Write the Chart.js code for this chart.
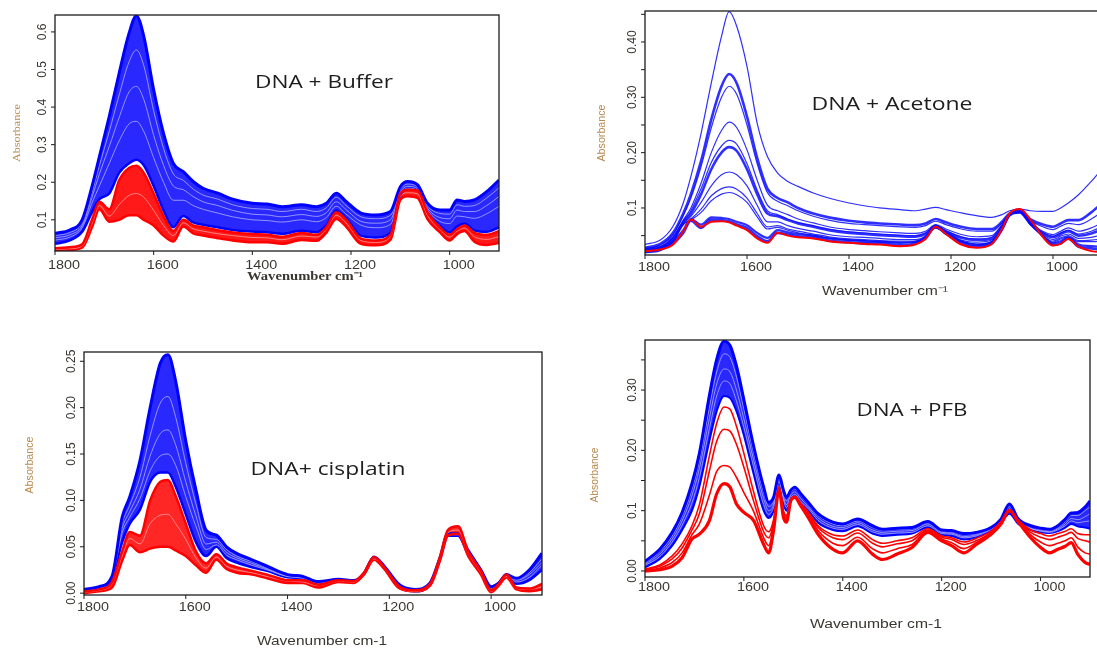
<!DOCTYPE html>
<html>
<head>
<meta charset="utf-8">
<script src="https://cdn.jsdelivr.net/npm/chart.js@4.4.0/dist/chart.umd.min.js"></script>
<style>
  html, body { margin: 0; padding: 0; background: #fff; width: 1097px; height: 649px; overflow: hidden; }
  .panel { position: absolute; }
</style>
</head>
<body>
<div class="panel" style="left:0px;top:0px;width:540px;height:300px"><canvas id="c1"></canvas></div>
<div class="panel" style="left:560px;top:0px;width:560px;height:300px"><canvas id="c2"></canvas></div>
<div class="panel" style="left:0px;top:320px;width:560px;height:329px"><canvas id="c3"></canvas></div>
<div class="panel" style="left:560px;top:320px;width:537px;height:329px"><canvas id="c4"></canvas></div>
<script>
// wavenumber grid (cm-1) used by the buffer, acetone and cisplatin panels
var WAVENUMBERS = [1800,1770,1745,1725,1710,1690,1670,1650,1635,1620,1600,1580,1560,1540,1520,1500,1470,1440,1400,1370,1340,1300,1270,1250,1230,1210,1180,1150,1120,1100,1085,1065,1045,1020,1000,985,970,950,925,900];
// finer grid for the PFB panel (sharp bands near 1530/1500)
var WAVENUMBERS_PFB = [1800,1770,1745,1725,1705,1690,1670,1655,1640,1628,1615,1600,1580,1560,1550,1540,1529,1520,1514,1505,1497,1485,1470,1450,1420,1400,1370,1340,1320,1290,1260,1228,1200,1180,1155,1130,1100,1080,1063,1045,1020,1000,982,965,950,938,925,910,900];

var X_TICKS = [1800, 1600, 1400, 1200, 1000];

// DNA + Buffer
var bufferBlue1 = [.064,.073,.100,.189,.268,.375,.490,.596,.643,.588,.446,.330,.250,.228,.202,.184,.171,.155,.144,.142,.135,.140,.135,.144,.171,.149,.118,.113,.122,.188,.202,.193,.144,.126,.126,.153,.149,.153,.175,.206];
var bufferBlue2 = [.058,.066,.092,.172,.245,.335,.432,.52,.552,.51,.39,.29,.222,.205,.182,.166,.155,.14,.13,.128,.122,.128,.122,.132,.16,.138,.108,.103,.112,.18,.195,.187,.137,.117,.115,.14,.136,.138,.158,.185];
var bufferBlue3 = [.052,.06,.085,.16,.222,.295,.372,.44,.455,.42,.325,.245,.19,.18,.162,.148,.138,.125,.115,.113,.108,.114,.109,.119,.148,.127,.096,.091,.1,.173,.189,.182,.131,.106,.103,.126,.122,.122,.138,.162];
var bufferBlue4 = [.046,.054,.079,.145,.19,.25,.31,.355,.362,.335,.265,.2,.152,.152,.138,.128,.118,.108,.1,.098,.094,.1,.095,.106,.136,.115,.086,.079,.088,.167,.184,.178,.126,.096,.09,.11,.108,.104,.116,.136];
var bufferBlue5 = [.036,.045,.068,.12,.155,.17,.225,.25,.26,.245,.19,.125,.08,.11,.093,.087,.08,.073,.069,.067,.063,.071,.067,.085,.125,.105,.058,.053,.066,.165,.183,.18,.122,.085,.066,.082,.09,.072,.068,.08];
var bufferRed1 = [.024,.027,.035,.1,.148,.128,.205,.238,.244,.225,.17,.11,.07,.1,.085,.08,.072,.066,.062,.06,.055,.065,.06,.08,.12,.1,.05,.045,.06,.17,.18,.178,.12,.08,.06,.075,.085,.065,.06,.07];
var bufferRed2 = [.021,.023,.03,.09,.138,.11,.14,.165,.17,.16,.125,.085,.058,.092,.076,.07,.063,.058,.053,.052,.047,.057,.054,.075,.112,.092,.045,.04,.055,.162,.172,.169,.112,.075,.054,.07,.078,.055,.048,.055];
var bufferRed3 = [.018,.02,.026,.08,.128,.095,.1,.112,.112,.1,.085,.058,.042,.082,.064,.058,.051,.045,.04,.04,.036,.046,.044,.066,.102,.082,.036,.032,.047,.153,.163,.158,.102,.067,.045,.062,.07,.042,.033,.038];

// DNA + Acetone
var acetoneBlue1 = [.034,.042,.067,.109,.157,.235,.326,.41,.455,.428,.356,.253,.193,.163,.148,.139,.127,.118,.109,.104,.1,.097,.095,.098,.101,.097,.091,.086,.083,.088,.095,.098,.095,.094,.094,.1,.109,.124,.148,.175];
var acetoneBlue2 = [.028,.035,.055,.09,.125,.185,.26,.32,.342,.325,.265,.19,.135,.118,.11,.1,.09,.083,.077,.074,.072,.07,.069,.072,.08,.074,.066,.062,.062,.075,.09,.093,.08,.07,.066,.072,.078,.078,.092,.112];
var acetoneBlue3 = [.026,.033,.052,.086,.118,.175,.245,.3,.32,.305,.25,.18,.128,.112,.104,.095,.085,.078,.072,.07,.068,.066,.065,.068,.076,.07,.062,.058,.058,.073,.089,.092,.078,.066,.061,.067,.072,.07,.08,.095];
var acetoneBlue4 = [.024,.03,.048,.078,.1,.145,.2,.24,.255,.245,.205,.15,.105,.095,.088,.08,.073,.066,.061,.059,.057,.055,.054,.058,.07,.062,.052,.048,.05,.07,.088,.092,.074,.058,.052,.058,.064,.058,.064,.075];
var acetoneBlue5 = [.023,.028,.046,.076,.095,.135,.182,.212,.222,.215,.18,.132,.095,.088,.08,.074,.068,.062,.057,.055,.053,.051,.05,.055,.068,.059,.048,.044,.047,.068,.088,.092,.073,.056,.049,.055,.06,.053,.058,.068];
var acetoneBlue6 = [.022,.027,.045,.074,.09,.125,.17,.2,.21,.203,.17,.125,.09,.085,.078,.072,.066,.06,.055,.053,.051,.049,.048,.053,.066,.057,.046,.042,.045,.067,.087,.092,.072,.054,.047,.053,.058,.05,.054,.062];
var acetoneBlue7 = [.02,.025,.042,.072,.085,.11,.14,.16,.165,.16,.14,.105,.075,.075,.068,.063,.058,.052,.048,.047,.045,.043,.043,.049,.064,.054,.042,.038,.042,.065,.088,.093,.072,.052,.043,.049,.053,.045,.047,.052];
var acetoneBlue8 = [.02,.024,.04,.07,.08,.098,.122,.135,.138,.134,.118,.09,.066,.068,.062,.058,.053,.048,.044,.043,.041,.04,.04,.047,.064,.053,.04,.035,.04,.063,.087,.093,.071,.05,.04,.046,.05,.041,.042,.045];
var acetoneBlue9 = [.019,.023,.038,.07,.078,.092,.113,.125,.128,.124,.11,.084,.062,.065,.06,.055,.051,.046,.042,.041,.039,.038,.038,.046,.064,.052,.039,.034,.039,.062,.087,.093,.07,.049,.038,.044,.048,.039,.039,.041];
var acetoneBlue10 = [.026,.03,.04,.06,.08,.07,.083,.082,.08,.075,.069,.055,.046,.06,.056,.053,.05,.045,.042,.04,.039,.037,.039,.048,.068,.057,.04,.033,.038,.062,.088,.094,.078,.05,.036,.04,.047,.034,.031,.029];
var acetoneBlue11 = [.024,.027,.036,.055,.077,.064,.079,.078,.076,.07,.064,.049,.04,.055,.052,.049,.047,.041,.038,.036,.036,.033,.036,.045,.067,.055,.036,.03,.036,.061,.088,.095,.079,.049,.033,.036,.045,.03,.027,.024];
var acetoneRed = [.022,.025,.034,.058,.079,.066,.075,.076,.074,.068,.06,.045,.037,.055,.05,.047,.045,.04,.037,.035,.034,.031,.034,.044,.066,.053,.034,.028,.035,.062,.09,.098,.08,.048,.032,.035,.044,.03,.022,.02];

// DNA + cisplatin
var cisBlue1 = [.004,.007,.018,.082,.104,.143,.2,.248,.257,.229,.164,.111,.068,.0625,.05,.043,.036,.029,.02,.018,.0125,.015,.0135,.021,.039,.029,.009,.004,.011,.039,.064,.064,.046,.025,.007,.011,.02,.016,.025,.043];
var cisBlue2 = [.003,.006,.017,.075,.095,.125,.17,.205,.212,.19,.14,.096,.06,.058,.047,.04,.034,.027,.019,.017,.012,.0145,.013,.021,.039,.029,.008,.004,.01,.038,.064,.064,.045,.024,.007,.011,.02,.015,.022,.037];
var cisBlue3 = [.003,.006,.017,.07,.088,.112,.148,.172,.176,.16,.12,.083,.053,.055,.044,.038,.032,.026,.018,.017,.011,.014,.013,.021,.038,.028,.008,.003,.01,.038,.063,.063,.044,.023,.006,.011,.02,.014,.02,.033];
var cisBlue4 = [.003,.006,.016,.065,.082,.102,.132,.148,.15,.138,.104,.072,.047,.052,.041,.036,.03,.025,.018,.016,.011,.014,.012,.021,.038,.028,.007,.003,.01,.037,.063,.063,.043,.023,.005,.01,.02,.012,.017,.03];
var cisBlue5 = [.003,.006,.016,.055,.075,.09,.12,.13,.13,.115,.085,.055,.04,.05,.038,.033,.028,.024,.017,.016,.01,.014,.012,.021,.038,.027,.006,.002,.009,.037,.062,.062,.042,.022,.004,.01,.019,.01,.014,.025];
var cisRed1 = [.002,.004,.012,.045,.066,.062,.1,.12,.122,.105,.075,.045,.032,.042,.032,.028,.024,.02,.014,.014,.009,.014,.013,.022,.039,.028,.007,.003,.01,.04,.068,.072,.045,.024,.003,.01,.02,.006,.005,.01];
var cisRed2 = [.001,.003,.01,.04,.059,.053,.075,.084,.085,.075,.058,.038,.027,.039,.029,.025,.022,.018,.013,.012,.008,.013,.012,.021,.037,.027,.006,.002,.009,.038,.065,.068,.043,.022,.002,.009,.018,.005,.004,.007];
var cisRed3 = [0,.002,.006,.035,.052,.044,.048,.05,.05,.046,.04,.03,.022,.036,.026,.022,.02,.016,.011,.011,.006,.012,.011,.02,.036,.026,.005,.002,.008,.036,.062,.064,.04,.02,.001,.008,.017,.004,.002,.004];

// DNA + PFB
var pfbBlue1 = [.016,.036,.064,.097,.145,.195,.29,.351,.381,.374,.34,.284,.206,.139,.114,.122,.159,.134,.122,.134,.139,.128,.114,.095,.081,.078,.086,.075,.069,.071,.072,.082,.068,.067,.062,.064,.072,.086,.111,.086,.075,.071,.069,.075,.086,.096,.097,.106,.116];
var pfbBlue2 = [.013,.032,.058,.09,.135,.182,.27,.33,.36,.354,.322,.268,.195,.13,.107,.115,.155,.128,.116,.13,.136,.125,.111,.092,.078,.075,.083,.072,.067,.069,.07,.08,.066,.065,.06,.062,.071,.084,.107,.084,.073,.069,.067,.072,.082,.092,.092,.1,.106];
var pfbBlue3 = [.011,.028,.053,.083,.125,.17,.252,.31,.335,.33,.3,.252,.183,.12,.1,.11,.152,.122,.11,.126,.131,.12,.107,.088,.074,.072,.08,.068,.064,.066,.067,.078,.064,.063,.057,.06,.07,.083,.103,.082,.071,.067,.065,.07,.078,.087,.085,.09,.095];
var pfbBlue4 = [.009,.024,.048,.076,.113,.155,.235,.29,.315,.31,.282,.238,.172,.11,.094,.105,.148,.118,.105,.122,.127,.115,.104,.084,.071,.069,.077,.065,.061,.063,.064,.075,.062,.061,.055,.058,.069,.082,.1,.08,.07,.066,.064,.068,.075,.083,.08,.082,.083];
var pfbBlue5 = [.006,.02,.042,.068,.1,.14,.215,.265,.29,.287,.265,.225,.16,.1,.088,.1,.145,.112,.1,.118,.122,.11,.1,.08,.068,.066,.074,.062,.058,.06,.062,.072,.06,.058,.052,.056,.068,.08,.095,.078,.068,.064,.063,.066,.072,.078,.074,.072,.07];
var pfbRed1 = [.003,.01,.025,.045,.075,.11,.19,.245,.272,.268,.24,.195,.13,.075,.065,.085,.14,.1,.092,.12,.124,.112,.098,.075,.06,.058,.068,.052,.046,.05,.055,.07,.058,.055,.048,.054,.066,.082,.102,.084,.068,.062,.058,.062,.066,.07,.062,.06,.06];
var pfbRed2 = [.002,.008,.02,.038,.068,.095,.165,.215,.235,.232,.21,.172,.115,.065,.055,.08,.138,.097,.088,.12,.123,.111,.096,.072,.055,.052,.063,.046,.04,.045,.05,.068,.056,.052,.044,.05,.064,.081,.101,.083,.064,.056,.052,.056,.06,.064,.054,.05,.048];
var pfbRed3 = [.001,.005,.014,.03,.06,.078,.125,.165,.175,.172,.155,.13,.098,.055,.042,.074,.136,.093,.085,.118,.122,.11,.093,.067,.046,.042,.056,.037,.03,.037,.044,.066,.053,.047,.037,.047,.063,.08,.1,.082,.06,.048,.042,.046,.05,.055,.04,.03,.028];
var pfbRed4 = [0,.002,.008,.022,.053,.061,.083,.128,.145,.139,.111,.097,.083,.044,.03,.067,.134,.089,.081,.117,.122,.108,.089,.061,.036,.03,.05,.028,.019,.028,.039,.064,.05,.042,.03,.044,.061,.078,.1,.081,.055,.039,.03,.036,.041,.047,.028,.014,.011];

var panels = [
  {
    canvas: 'c1', left: 0, top: 0, pad: { top: 15, right: 41 }, yAxisWidth: 55, xAxisHeight: 49,
    yMin: 0.017, yMax: 0.645, wn: WAVENUMBERS,
    red: [bufferRed1, bufferRed2, bufferRed3], redWidths: [2.5, 0.8, 2.5], redFill: 'rgba(255,0,0,0.9)',
    blue: [bufferBlue1, bufferBlue2, bufferBlue3, bufferBlue4, bufferBlue5], blueWidths: [3, 0.8, 0.8, 0.8, 2.5],
    blueFill: 'rgba(0,0,255,0.84)', blueColor: '#0000ff',
    yMarks: [0.1, 0.2, 0.3, 0.4, 0.5, 0.6],
    yLabels: [[0.1, '0.1'], [0.2, '0.2'], [0.3, '0.3'], [0.4, '0.4'], [0.5, '0.5'], [0.6, '0.6']],
    tickDy: 15, xTitle: 'Wavenumber cm\u207B\u00B9', xTitleFont: 'bold 12px "Liberation Serif"', xTitleAt: [305, 277, 116],
    yTitleFont: '11px "Liberation Serif"', yTitleAt: [17, 133, 58],
    note: 'DNA + Buffer', noteAt: [324, 83, 138]
  },
  {
    canvas: 'c2', left: 560, top: 0, pad: { top: 11, right: 16 }, yAxisWidth: 85, xAxisHeight: 45,
    yMin: 0.015, yMax: 0.456, wn: WAVENUMBERS,
    red: [acetoneRed], redWidths: [2],
    blue: [acetoneBlue1, acetoneBlue2, acetoneBlue3, acetoneBlue4, acetoneBlue5, acetoneBlue6, acetoneBlue7, acetoneBlue8, acetoneBlue9, acetoneBlue10, acetoneBlue11],
    blueWidths: [1.2, 2.6, 1.2, 1.2, 1.2, 2.6, 1.2, 1.2, 1.2, 2.2, 2.6], blueColor: 'rgba(10,10,255,0.85)',
    yMarks: [0.05, 0.1, 0.15, 0.2, 0.25, 0.3, 0.35, 0.4, 0.45],
    yLabels: [[0.1, '0.1'], [0.2, '0.20'], [0.3, '0.30'], [0.4, '0.40']],
    tickDy: 13, xTitle: 'Wavenumber cm\u207B\u00B9', xTitleFont: '12px "Liberation Sans"', xTitleAt: [885, 292, 126],
    yTitleFont: '11px "Liberation Sans"', yTitleAt: [602, 133, 57],
    note: 'DNA + Acetone', noteAt: [892, 105, 161]
  },
  {
    canvas: 'c3', left: 0, top: 320, pad: { top: 32, right: 18 }, yAxisWidth: 84, xAxisHeight: 54,
    yMin: -0.002, yMax: 0.26, wn: WAVENUMBERS,
    red: [cisRed1, cisRed2, cisRed3], redWidths: [2.5, 0.8, 2.5], redFill: 'rgba(255,0,0,0.85)',
    blue: [cisBlue1, cisBlue2, cisBlue3, cisBlue4, cisBlue5], blueWidths: [3, 0.8, 0.8, 0.8, 2.5],
    blueFill: 'rgba(0,0,255,0.84)', blueColor: '#0000ff',
    yMarks: [0, 0.05, 0.1, 0.15, 0.2, 0.25],
    yLabels: [[0, '0.00'], [0.05, '0.05'], [0.1, '0.10'], [0.15, '0.15'], [0.2, '0.20'], [0.25, '0.25']],
    tickDy: 13, xTitle: 'Wavenumber cm-1', xTitleFont: '12px "Liberation Sans"', xTitleAt: [322, 642, 130],
    yTitleFont: '11px "Liberation Sans"', yTitleAt: [30, 465, 57],
    note: 'DNA+ cisplatin', noteAt: [328, 470, 155]
  },
  {
    canvas: 'c4', left: 560, top: 320, pad: { top: 20, right: 7 }, yAxisWidth: 85, xAxisHeight: 72,
    yMin: -0.01, yMax: 0.383, wn: WAVENUMBERS_PFB,
    red: [pfbRed1, pfbRed2, pfbRed3, pfbRed4], redWidths: [1.6, 1.6, 1.6, 3.2],
    blue: [pfbBlue1, pfbBlue2, pfbBlue3, pfbBlue4, pfbBlue5], blueWidths: [3, 0.8, 0.8, 0.8, 2],
    blueFill: 'rgba(0,0,255,0.84)', blueColor: '#0000ff',
    yMarks: [0, 0.05, 0.1, 0.15, 0.2, 0.25, 0.3, 0.35],
    yLabels: [[0, '0.00'], [0.1, '0.1'], [0.2, '0.20'], [0.3, '0.30']],
    tickDy: 11, xTitle: 'Wavenumber cm-1', xTitleFont: '12px "Liberation Sans"', xTitleAt: [876, 625, 132],
    yTitleFont: '11px "Liberation Sans"', yTitleAt: [595, 475, 55],
    note: 'DNA + PFB', noteAt: [912, 411, 111]
  }
];

function points(xs, ys) {
  return xs.map(function (x, i) { return { x: x, y: ys[i] }; });
}

function lineSet(xs, ys, color, width) {
  return {
    data: points(xs, ys),
    borderColor: color,
    borderWidth: width,
    backgroundColor: 'transparent',
    pointRadius: 0,
    fill: false,
    cubicInterpolationMode: 'monotone'
  };
}

// draw text centred at (x, y), optionally squeezed/stretched to a given width and rotated
function putText(ctx, text, x, y, font, color, width, rotate) {
  ctx.save();
  ctx.font = font;
  ctx.fillStyle = color;
  ctx.textAlign = 'center';
  ctx.textBaseline = 'middle';
  ctx.translate(x, y);
  if (rotate) ctx.rotate(-Math.PI / 2);
  if (width) ctx.scale(width / ctx.measureText(text).width, 1);
  ctx.fillText(text, 0, 0);
  ctx.restore();
}

function makeFrame(p) {
  return {
    id: 'frame',
    afterDatasetsDraw: function (chart) {
      var ctx = chart.ctx, a = chart.chartArea;
      var xs = chart.scales.x, ys = chart.scales.y;
      ctx.save();
      ctx.strokeStyle = '#1c1c1c';
      ctx.lineWidth = 1.3;
      ctx.strokeRect(a.left, a.top, a.right - a.left, a.bottom - a.top);
      ctx.lineWidth = 1;
      X_TICKS.forEach(function (v) {
        var px = xs.getPixelForValue(v);
        ctx.beginPath();
        ctx.moveTo(px, a.bottom);
        ctx.lineTo(px, a.bottom + 4);
        ctx.stroke();
        putText(ctx, String(v), px + 9, a.bottom + p.tickDy, '12px "Liberation Sans"', '#3a3632', 32);
      });
      p.yMarks.forEach(function (v) {
        var py = ys.getPixelForValue(v);
        ctx.beginPath();
        ctx.moveTo(a.left - 4, py);
        ctx.lineTo(a.left, py);
        ctx.stroke();
      });
      p.yLabels.forEach(function (l) {
        putText(ctx, l[1], a.left - 12, ys.getPixelForValue(l[0]), '12px "Liberation Sans"', '#3a3632', null, true);
      });
      putText(ctx, p.xTitle, p.xTitleAt[0] - p.left, p.xTitleAt[1] - p.top, p.xTitleFont, '#3a3632', p.xTitleAt[2]);
      putText(ctx, 'Absorbance', p.yTitleAt[0] - p.left, p.yTitleAt[1] - p.top, p.yTitleFont, '#b8894f', p.yTitleAt[2], true);
      putText(ctx, p.note, p.noteAt[0] - p.left, p.noteAt[1] - p.top, '18px "Open Sans"', '#1e1e1e', p.noteAt[2]);
      ctx.restore();
    }
  };
}

function buildDatasets(p) {
  var sets = [];
  var redInner = p.redFill ? 'rgba(255,170,170,0.9)' : '#ff0000';
  var blueInner = p.blueFill ? 'rgba(190,190,255,0.9)' : p.blueColor;
  p.red.forEach(function (ys, i) {
    var edge = i === 0 || i === p.red.length - 1;
    sets.push(lineSet(p.wn, ys, edge ? '#ff0000' : redInner, p.redWidths[i]));
  });
  if (p.redFill) {
    sets[0].fill = sets.length - 1;
    sets[0].backgroundColor = p.redFill;
  }
  var first = sets.length;
  p.blue.forEach(function (ys, i) {
    var edge = i === 0 || i === p.blue.length - 1;
    sets.push(lineSet(p.wn, ys, edge ? p.blueColor : blueInner, p.blueWidths[i]));
  });
  if (p.blueFill) {
    sets[first].fill = sets.length - 1;
    sets[first].backgroundColor = p.blueFill;
  }
  return sets;
}

panels.forEach(function (p) {
  new Chart(document.getElementById(p.canvas), {
    type: 'line',
    data: { datasets: buildDatasets(p) },
    options: {
      responsive: true,
      maintainAspectRatio: false,
      animation: false,
      events: [],
      layout: { padding: { left: 0, top: p.pad.top, right: p.pad.right, bottom: 0 } },
      plugins: {
        legend: { display: false },
        tooltip: { enabled: false },
        filler: { drawTime: 'beforeDatasetsDraw' }
      },
      scales: {
        x: {
          type: 'linear', reverse: true, min: 900, max: 1800,
          ticks: { display: false }, grid: { display: false }, border: { display: false },
          afterFit: function (s) { s.height = p.xAxisHeight; }
        },
        y: {
          type: 'linear', min: p.yMin, max: p.yMax,
          ticks: { display: false }, grid: { display: false }, border: { display: false },
          afterFit: function (s) { s.width = p.yAxisWidth; }
        }
      }
    },
    plugins: [makeFrame(p)]
  });
});
</script>
</body>
</html>
